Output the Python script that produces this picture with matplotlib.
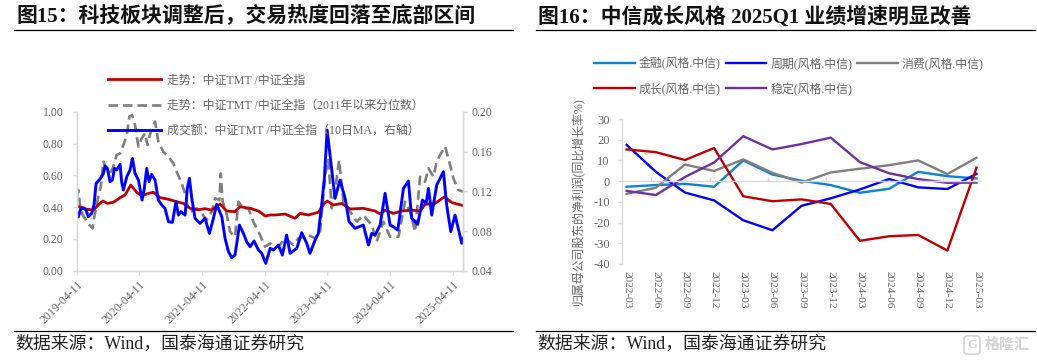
"""Recreate two side-by-side research-note charts (TMT turnover, style earnings)."""

from __future__ import annotations

import matplotlib

matplotlib.use("Agg")

import matplotlib.pyplot as plt
from matplotlib.transforms import ScaledTranslation
import numpy as np
import pandas as pd


WIDTH = 1037
HEIGHT = 361

START_DATE = pd.Timestamp("2019-04-11")
LEFT_TICK_DATES = [
    "2019-04-11",
    "2020-04-11",
    "2021-04-11",
    "2022-04-11",
    "2023-04-11",
    "2024-04-11",
    "2025-04-11",
]
LEFT_X_END = 2254  # days after START_DATE

# days after START_DATE
TREND_DAYS = [
    0, 49, 97, 126, 152, 179, 214, 253, 282, 315, 350, 379, 418, 447, 486, 535, 583, 622, 661, 710,
    748, 787, 836, 875, 923, 952, 1011, 1060, 1099, 1128, 1156, 1215, 1273, 1302, 1351, 1409, 1444,
    1460, 1497, 1545, 1594, 1671, 1740, 1769, 1798, 1846, 1895, 1953, 2002, 2031, 2089, 2144, 2187,
    2254,
]
TREND = [
    0.408, 0.389, 0.382, 0.414, 0.439, 0.424, 0.431, 0.460, 0.477, 0.540, 0.494, 0.473, 0.487, 0.494,
    0.460, 0.450, 0.435, 0.424, 0.393, 0.384, 0.391, 0.382, 0.420, 0.376, 0.372, 0.403, 0.393, 0.376,
    0.345, 0.351, 0.351, 0.357, 0.330, 0.361, 0.351, 0.368, 0.424, 0.439, 0.414, 0.424, 0.389, 0.393,
    0.376, 0.357, 0.382, 0.361, 0.376, 0.382, 0.376, 0.418, 0.424, 0.466, 0.429, 0.410,
]
PERCENTILE_DAYS = [
    0, 10, 19, 35, 54, 74, 93, 101, 126, 140, 156, 171, 191, 210, 233, 253, 272, 292, 307, 323, 340,
    360, 379, 399, 412, 437, 457, 476, 505, 535, 564, 587, 612, 632, 645, 665, 700, 729, 758, 787,
    807, 832, 840, 851, 871, 894, 923, 943, 972, 1001, 1030, 1069, 1098, 1128, 1137, 1176, 1215,
    1263, 1292, 1351, 1390, 1419, 1432, 1448, 1467, 1487, 1506, 1530, 1555, 1594, 1633, 1671, 1720,
    1749, 1788, 1827, 1876, 1914, 1944, 1973, 2002, 2031, 2051, 2080, 2099, 2119, 2148, 2177, 2196,
    2226, 2254,
]
PERCENTILE = [
    0.466, 0.508, 0.414, 0.351, 0.319, 0.288, 0.267, 0.330, 0.466, 0.529, 0.687, 0.645, 0.613, 0.645,
    0.729, 0.739, 0.792, 0.855, 0.971, 0.981, 0.918, 0.782, 0.834, 0.866, 0.792, 0.897, 0.939, 0.813,
    0.750, 0.718, 0.676, 0.613, 0.550, 0.487, 0.414, 0.372, 0.393, 0.361, 0.319, 0.372, 0.456, 0.445,
    0.613, 0.435, 0.372, 0.246, 0.214, 0.435, 0.393, 0.393, 0.309, 0.225, 0.151, 0.172, 0.162, 0.151,
    0.204, 0.162, 0.204, 0.225, 0.204, 0.246, 0.393, 0.603, 0.697, 0.393, 0.498, 0.697, 0.435, 0.372,
    0.309, 0.351, 0.288, 0.183, 0.309, 0.214, 0.214, 0.435, 0.372, 0.246, 0.592, 0.561, 0.645, 0.592,
    0.687, 0.729, 0.782, 0.666, 0.582, 0.508, 0.498,
]
TURNOVER_DAYS = [
    0, 10, 23, 39, 54, 68, 87, 101, 113, 136, 156, 165, 179, 194, 208, 220, 233, 253, 262, 272, 292,
    311, 325, 340, 360, 381, 393, 408, 422, 437, 457, 476, 496, 515, 535, 558, 579, 593, 607, 632,
    645, 657, 671, 690, 719, 748, 774, 797, 816, 846, 865, 885, 904, 923, 949, 972, 991, 1011, 1034,
    1060, 1079, 1102, 1128, 1147, 1176, 1199, 1224, 1244, 1283, 1312, 1341, 1360, 1390, 1409, 1428,
    1444, 1460, 1477, 1506, 1535, 1565, 1588, 1623, 1671, 1701, 1720, 1740, 1769, 1798, 1827, 1846,
    1872, 1905, 1934, 1953, 1988, 2016, 2037, 2051, 2070, 2099, 2138, 2157, 2181, 2206, 2245, 2254,
]
TURNOVER = [
    0.0995, 0.0944, 0.1022, 0.1035, 0.1012, 0.0944, 0.0978, 0.1062, 0.1280, 0.1324, 0.1381, 0.1455,
    0.1432, 0.1297, 0.1314, 0.1432, 0.1415, 0.1472, 0.1297, 0.1213, 0.1348, 0.1415, 0.1532, 0.1381,
    0.1314, 0.1112, 0.1213, 0.1432, 0.1297, 0.1371, 0.1314, 0.1112, 0.1062, 0.1028, 0.0894, 0.0887,
    0.1096, 0.0961, 0.0995, 0.0961, 0.1230, 0.1331, 0.1129, 0.0928, 0.0877, 0.0928, 0.0776, 0.0928,
    0.1069, 0.0944, 0.0726, 0.0592, 0.0531, 0.0558, 0.0860, 0.0776, 0.0692, 0.0642, 0.0699, 0.0608,
    0.0575, 0.0474, 0.0625, 0.0608, 0.0659, 0.0558, 0.0760, 0.0575, 0.0625, 0.0783, 0.0676, 0.0575,
    0.0709, 0.0776, 0.1062, 0.1331, 0.1818, 0.1566, 0.1129, 0.1314, 0.1129, 0.0894, 0.0827, 0.0860,
    0.0659, 0.0776, 0.0760, 0.0860, 0.1180, 0.0860, 0.0844, 0.0810, 0.1230, 0.1304, 0.0928, 0.0867,
    0.1112, 0.1079, 0.1230, 0.0961, 0.1264, 0.1398, 0.1062, 0.0793, 0.0961, 0.0676, 0.0726,
]

QUARTERS = [
    "2022-03", "2022-06", "2022-09", "2022-12", "2023-03", "2023-06", "2023-09",
    "2023-12", "2024-03", "2024-06", "2024-09", "2024-12", "2025-03",
]
FINANCE = [-2.7, -1.9, -1.3, -2.7, 10.0, 3.2, 0.2, -1.9, -5.6, -3.7, 4.5, 2.4, 1.3]
CYCLE = [17.5, 4.5, -5.5, -9.3, -18.9, -23.7, -11.9, -8.3, -4.0, 1.0, -3.0, -3.8, 3.5]
CONSUMER = [-6.1, -3.2, 8.0, 4.9, 10.5, 4.0, -0.7, 4.2, 6.0, 7.7, 10.0, 3.4, 11.3]
GROWTH = [15.3, 14.0, 10.2, 16.0, -7.3, -9.7, -8.8, -11.0, -28.8, -26.6, -26.0, -33.5, 6.5]
STABLE = [-4.7, -6.7, 2.0, 9.0, 21.7, 15.3, 17.9, 21.0, 9.2, 3.8, 1.0, -0.8, -0.7]

TEXT_GREY = "#666666"
AXIS_GREY = "#d9d9d9"


def main() -> None:
    _set_style()
    fig = plt.figure(figsize=(WIDTH / 100, HEIGHT / 100), dpi=100)
    _plot_turnover(fig)
    _plot_earnings(fig)
    _add_frame(fig)
    fig.savefig("out.png", dpi=100)
    plt.close(fig)


def _axes_px(fig, left, top, right, bottom):
    return fig.add_axes(
        [left / WIDTH, 1 - bottom / HEIGHT, (right - left) / WIDTH, (bottom - top) / HEIGHT]
    )


def _plot_turnover(fig) -> None:
    ax = _axes_px(fig, 76.7, 112, 463.3, 270.7)
    ax.patch.set_alpha(0)
    ax.plot(PERCENTILE_DAYS, PERCENTILE, color="#7f7f7f", lw=1.9, ls=(0, (3.6, 1.9)))
    ax.plot(TREND_DAYS, TREND, color="#c00000", lw=2.0)
    ax.set_xlim(0, LEFT_X_END)
    ax.set_ylim(0, 1)
    ax.set_yticks(np.arange(0, 1.01, 0.2), [f"{v:.2f}" for v in np.arange(0, 1.01, 0.2)])
    ticks = [(pd.Timestamp(d) - START_DATE).days for d in LEFT_TICK_DATES]
    ax.set_xticks(ticks)
    ax.set_xticklabels(LEFT_TICK_DATES, rotation=45, ha="right", va="top", rotation_mode="anchor")
    shift = ScaledTranslation(-3 / 72, -1.5 / 72, fig.dpi_scale_trans)
    for label in ax.get_xticklabels():
        label.set_transform(label.get_transform() + shift)

    right = ax.twinx()
    right.plot(TURNOVER_DAYS, TURNOVER, color="#0000ff", lw=2.1)
    right.set_ylim(0.04, 0.20)
    right.set_yticks(np.arange(0.04, 0.201, 0.04), [f"{v:.2f}" for v in np.arange(0.04, 0.201, 0.04)])

    for axis in (ax, right):
        axis.spines["top"].set_visible(False)
        for spine in axis.spines.values():
            spine.set_color(AXIS_GREY)
            spine.set_linewidth(1.0)
        axis.tick_params(colors=TEXT_GREY, color=AXIS_GREY, length=3, width=1.0, labelsize=8.6, pad=3)
    ax.tick_params(axis="y", pad=6.5)

    handles = [
        plt.Line2D([], [], color="#c00000", lw=2.0),
        plt.Line2D([], [], color="#7f7f7f", lw=1.9, ls=(0, (3.6, 1.9))),
        plt.Line2D([], [], color="#0000ff", lw=2.1),
    ]
    labels = [
        "走势：中证TMT /中证全指",
        "走势：中证TMT /中证全指（2011年以来分位数）",
        "成交额：中证TMT /中证全指（10日MA，右轴）",
    ]
    right.legend(
        handles,
        labels,
        loc="upper left",
        bbox_to_anchor=(108 / WIDTH, 1 - 74.5 / HEIGHT),
        bbox_transform=fig.transFigure,
        frameon=False,
        fontsize=8.6,
        labelcolor=TEXT_GREY,
        handlelength=4.4,
        handletextpad=0.5,
        labelspacing=1.12,
        borderpad=0,
        borderaxespad=0,
    )


def _plot_earnings(fig) -> None:
    ax = _axes_px(fig, 621.7, 119, 980, 264)
    x = np.arange(len(QUARTERS))
    series = [
        (FINANCE, "#0a84d6", "金融(风格.中信)"),
        (CYCLE, "#0000ff", "周期(风格.中信)"),
        (CONSUMER, "#7f7f7f", "消费(风格.中信)"),
        (GROWTH, "#c00000", "成长(风格.中信)"),
        (STABLE, "#7030a0", "稳定(风格.中信)"),
    ]
    lines = {}
    for values, color, label in series:
        lines[label] = ax.plot(x, values, color=color, lw=1.7, label=label)[0]
    ax.set_xlim(-0.17, 12.12)
    ax.set_ylim(-40, 30)
    ax.set_yticks(np.arange(-40, 31, 10))
    ax.spines["top"].set_visible(False)
    ax.spines["right"].set_visible(False)
    ax.spines["bottom"].set_position(("data", 0))
    for spine in ax.spines.values():
        spine.set_color(AXIS_GREY)
        spine.set_linewidth(1.0)
    ax.set_xticks(np.arange(1, len(QUARTERS), 2) - 0.15)
    ax.set_xticklabels([])
    ax.tick_params(axis="x", direction="in", length=3, width=1.0, color=AXIS_GREY)
    ax.tick_params(axis="y", length=3, width=1.0, color=AXIS_GREY, labelcolor=TEXT_GREY, labelsize=9.0, pad=5.5)
    for index, label in zip(x, QUARTERS):
        ax.annotate(
            label,
            xy=(index, -40),
            xytext=(0, -5),
            textcoords="offset points",
            rotation=-90,
            ha="center",
            va="top",
            fontsize=8.2,
            color=TEXT_GREY,
        )
    fig.text(
        579 / WIDTH,
        1 - 201 / HEIGHT,
        "归属母公司股东的净利润(同比增长率%)",
        rotation=90,
        ha="center",
        va="center",
        fontsize=8.6,
        color=TEXT_GREY,
    )
    # ncol fills column by column
    order = [0, 3, 1, 4, 2]
    handles = [lines[series[i][2]] for i in order]
    ax.legend(
        handles,
        [series[i][2] for i in order],
        ncol=3,
        loc="upper left",
        bbox_to_anchor=(594 / WIDTH, 1 - 57 / HEIGHT),
        bbox_transform=fig.transFigure,
        frameon=False,
        fontsize=8.6,
        labelcolor=TEXT_GREY,
        handlelength=3.4,
        handletextpad=0.35,
        columnspacing=0.4,
        labelspacing=1.0,
        borderpad=0,
        borderaxespad=0,
    )


def _add_frame(fig) -> None:
    rules = [(14, 513, 30), (14, 513, 331), (536, 1035, 30), (536, 1035, 331)]
    for x0, x1, y in rules:
        fig.add_artist(
            plt.Line2D([x0 / WIDTH, x1 / WIDTH], [1 - y / HEIGHT] * 2, color="black", lw=0.9)
        )
    title_kw = {"fontsize": 15, "fontweight": "bold", "va": "center", "color": "#111111"}
    fig.text(16 / WIDTH, 1 - 17 / HEIGHT, "图15：科技板块调整后，交易热度回落至底部区间", **title_kw)
    fig.text(538 / WIDTH, 1 - 17 / HEIGHT, "图16：中信成长风格 2025Q1 业绩增速明显改善", **title_kw)
    source = "数据来源：Wind，国泰海通证券研究"
    for left in (15, 537):
        fig.text(left / WIDTH, 1 - 344 / HEIGHT, source, fontsize=12.85, va="center", color="#222222")
    fig.text(
        972 / WIDTH,
        1 - 345 / HEIGHT,
        "G",
        fontsize=9,
        fontweight="bold",
        ha="center",
        va="center",
        color="#d2d2d2",
        bbox={"boxstyle": "round,pad=0.25", "fc": "none", "ec": "#d2d2d2", "lw": 1.2},
    )
    fig.text(985 / WIDTH, 1 - 345 / HEIGHT, "格隆汇", fontsize=10.8, fontweight="bold", va="center", color="#d2d2d2")


def _set_style() -> None:
    plt.rcParams.update(
        {
            "font.family": ["Liberation Serif", "Noto Sans CJK SC"],
            "axes.unicode_minus": False,
        }
    )


if __name__ == "__main__":
    main()
